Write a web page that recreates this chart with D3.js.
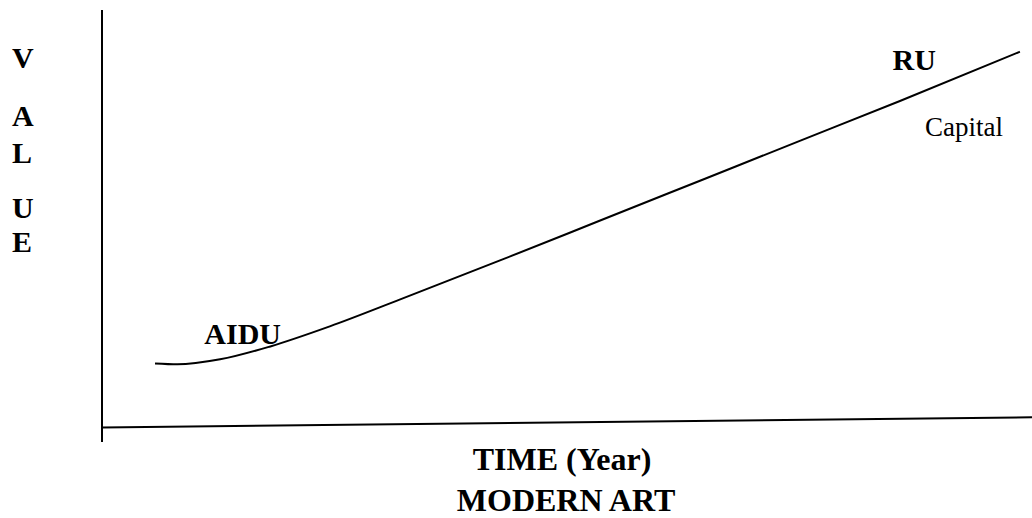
<!DOCTYPE html>
<html>
<head>
<meta charset="utf-8">
<script src="https://cdn.jsdelivr.net/npm/d3@7"></script>
<style>
  html, body { margin: 0; padding: 0; background: #fff; }
  svg { display: block; }
</style>
</head>
<body>
<svg id="chart" width="1032" height="518"></svg>
<script>
// Growth of value over time (schematic)
const timeValues  = [5.7, 8.1, 12.7, 18.1, 24.5, 32.0, 42.8, 53.5, 64.3, 75.1, 85.8, 98.7];
const valueValues = [15.3, 15.1, 16.3, 19.4, 24.2, 30.6, 40.0, 49.5, 59.1, 68.7, 78.2, 90.0];

// Axis extents (the time axis rises slightly toward its right end)
const timeAxisStart = [0, 0];
const timeAxisEnd   = [100, 2.4];
const valueAxisRange = [-3.5, 100];

const yLetters = ["V", "A", "L", "U", "E"];
const yLetterBaselines = [68, 126, 163, 218, 252];

const pointLabels = [
  { text: "AIDU", t: 11.0, v: 19.9, bold: true, size: 30 },
  { text: "RU", t: 85.0, v: 85.6, bold: true, size: 30 },
  { text: "Capital", t: 88.5, v: 69.9, bold: false, size: 27 }
];
const xTitle = "TIME (Year)";
const chartTitle = "MODERN ART";

const FONT = "'Liberation Serif', 'Times New Roman', Tinos, 'DejaVu Serif', serif";

const svg = d3.select("#chart");

const x = d3.scaleLinear().domain([0, 100]).range([102, 1032]);
const y = d3.scaleLinear().domain(valueAxisRange).range([442, 10]);

// vertical value axis
svg.append("line")
  .attr("x1", x(0)).attr("x2", x(0))
  .attr("y1", y(valueAxisRange[0])).attr("y2", y(valueAxisRange[1]))
  .attr("stroke", "#000").attr("stroke-width", 2);

// horizontal time axis
svg.append("line")
  .attr("x1", x(timeAxisStart[0])).attr("y1", y(timeAxisStart[1]))
  .attr("x2", x(timeAxisEnd[0])).attr("y2", y(timeAxisEnd[1]))
  .attr("stroke", "#000").attr("stroke-width", 2);

// value curve
const pts = timeValues.map((t, i) => [t, valueValues[i]]);
const line = d3.line()
  .x(d => x(d[0]))
  .y(d => y(d[1]))
  .curve(d3.curveMonotoneX);

svg.append("path")
  .datum(pts)
  .attr("d", line)
  .attr("fill", "none")
  .attr("stroke", "#000")
  .attr("stroke-width", 2);

// stacked letters of the value axis title
svg.selectAll("text.yl")
  .data(yLetters)
  .join("text")
  .attr("class", "yl")
  .attr("x", 12)
  .attr("y", (d, i) => yLetterBaselines[i])
  .attr("font-family", FONT)
  .attr("font-size", 30)
  .attr("font-weight", "bold")
  .text(d => d);

// point labels
svg.selectAll("text.pl")
  .data(pointLabels)
  .join("text")
  .attr("class", "pl")
  .attr("x", d => x(d.t))
  .attr("y", d => y(d.v))
  .attr("font-family", FONT)
  .attr("font-size", d => d.size)
  .attr("font-weight", d => d.bold ? "bold" : "normal")
  .text(d => d.text);

svg.append("text")
  .attr("x", 562).attr("y", 470)
  .attr("text-anchor", "middle")
  .attr("font-family", FONT)
  .attr("font-size", 32)
  .attr("font-weight", "bold")
  .text(xTitle);

svg.append("text")
  .attr("x", 566).attr("y", 511)
  .attr("text-anchor", "middle")
  .attr("font-family", FONT)
  .attr("font-size", 32)
  .attr("font-weight", "bold")
  .text(chartTitle);
</script>
</body>
</html>
